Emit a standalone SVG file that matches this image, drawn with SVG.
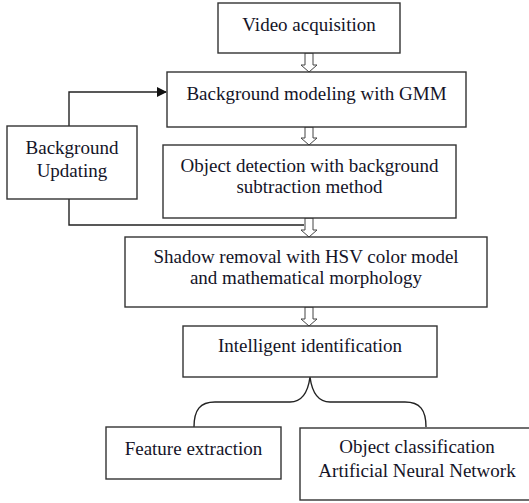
<svg xmlns="http://www.w3.org/2000/svg" width="529" height="503" viewBox="0 0 529 503">
<style>
.box{fill:#fff;stroke:#333;stroke-width:1.4}
.t{font-family:"Liberation Serif","Times New Roman",serif;font-size:19px;fill:#141428;text-anchor:middle}
.ln{fill:none;stroke:#222;stroke-width:1.4}
.ha{fill:#fff;stroke:#444;stroke-width:1}
</style>
<defs>
<marker id="ah" markerWidth="10" markerHeight="10" refX="9" refY="5" orient="auto" markerUnits="userSpaceOnUse" viewBox="0 0 10 10">
<path d="M0,0 L10,5 L0,10 Z" fill="#111"/>
</marker>
</defs>
<g id="connectors">
<path class="ln" d="M69,126 V92 H166" marker-end="url(#ah)"/>
<path class="ln" d="M69,199 V225 H304"/>
<path class="ha" d="M305,53 H313 V65 H317 L309,72 L301,65 H305 Z"/>
<path class="ha" d="M305,127 H313 V138 H317 L309,145 L301,138 H305 Z"/>
<path class="ha" d="M305,218 H313 V230 H317 L309,237 L301,230 H305 Z"/>
<path class="ha" d="M305,307 H313 V319 H317 L309,326 L301,319 H305 Z"/>
<path class="ln" stroke-width="1.2" d="M194,427 C194,410 200,402 215,402 H290 C302,402 308,392 310,377 C312,392 318,402 330,402 H405 C420,402 426,410 426,427"/>
</g>
<g id="n1"><rect class="box" x="218" y="3" width="182" height="50"/><text class="t" x="309" y="31">Video acquisition</text></g>
<g id="n2"><rect class="box" x="167" y="72" width="299" height="55"/><text class="t" x="316.5" y="100">Background modeling with GMM</text></g>
<g id="n3"><rect class="box" x="7" y="126" width="130" height="73"/><text class="t" x="72" y="154">Background</text><text class="t" x="72" y="177">Updating</text></g>
<g id="n4"><rect class="box" x="163" y="145" width="293" height="73"/><text class="t" x="309.5" y="172">Object detection with background</text><text class="t" x="309.5" y="193">subtraction method</text></g>
<g id="n5"><rect class="box" x="125" y="237" width="362" height="70"/><text class="t" x="306" y="263">Shadow removal with HSV color model</text><text class="t" x="306" y="284">and mathematical morphology</text></g>
<g id="n6"><rect class="box" x="183" y="326" width="254" height="51"/><text class="t" x="310" y="352">Intelligent identification</text></g>
<g id="n7"><rect class="box" x="106" y="427" width="175" height="52"/><text class="t" x="193.5" y="455">Feature extraction</text></g>
<g id="n8"><rect class="box" x="300" y="428" width="235" height="72"/><text class="t" x="417" y="453">Object classification</text><text class="t" x="417" y="477">Artificial Neural Network</text></g>
</svg>
